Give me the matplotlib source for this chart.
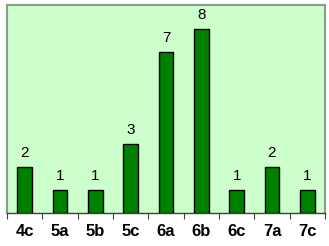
import matplotlib
matplotlib.use("Agg")
import matplotlib.pyplot as plt
import numpy as np

categories = ["4c", "5a", "5b", "5c", "6a", "6b", "6c", "7a", "7c"]
values = [2, 1, 1, 3, 7, 8, 1, 2, 1]

plt.rcParams['font.family'] = ['Liberation Sans', 'DejaVu Sans']

fig = plt.figure(figsize=(3.29, 2.46), dpi=100)
fig.patch.set_facecolor('white')
ax = fig.add_axes([7/329, 1-213/246, 318/329, 208/246])
ax.set_facecolor('#CCFFCC')

x = np.arange(len(categories))
bars = ax.bar(x, values, width=0.41, color='#008000', edgecolor='black', linewidth=1.0, zorder=3)
for xi, v in zip(x, values):
    ax.annotate(str(v), (xi, v), xytext=(0, 5), textcoords='offset points',
                ha='center', va='bottom', fontsize=11, color='black')

ax.set_xlim(-0.5, len(categories) - 0.5)
ax.set_ylim(0, 9.05)
ax.set_yticks([])
ax.set_xticks(x)
ax.set_xticklabels(categories, fontsize=12, fontweight='bold')
ax.tick_params(axis='x', which='major', length=0, pad=8)
ax.set_xticks(np.arange(-0.5, len(categories)), minor=True)
ax.tick_params(axis='x', which='minor', length=4, width=0.8, color='#404040', direction='out')

for s in ['left', 'top', 'right']:
    ax.spines[s].set_color('#8C9C8C')
    ax.spines[s].set_linewidth(1.5)
ax.spines['bottom'].set_color('#404040')
ax.spines['bottom'].set_linewidth(1.0)

fig.savefig('out.png', dpi=100, facecolor='white')
